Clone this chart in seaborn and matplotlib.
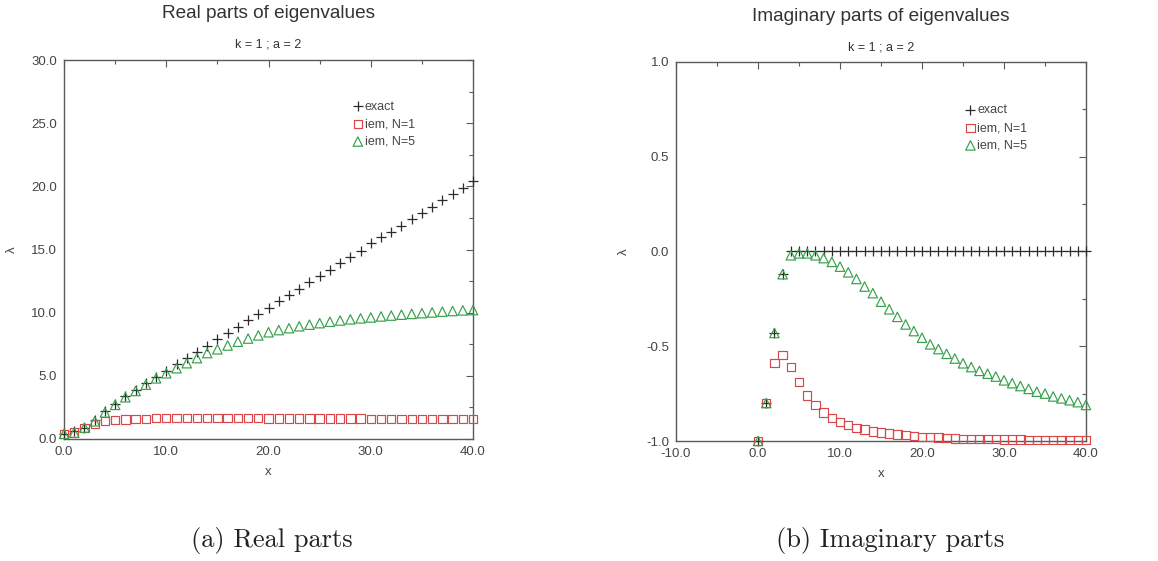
import matplotlib
matplotlib.use("Agg")
import matplotlib.pyplot as plt
import seaborn as sns
import numpy as np
import pandas as pd
from matplotlib.ticker import MultipleLocator, FormatStrFormatter

# ---------------- data ----------------
x_vals = list(range(41))

exact_re = [0.4, 0.6, 0.9, 1.5, 2.2, 2.8, 3.4, 3.9, 4.4, 4.9,
            5.4, 5.9, 6.4, 6.9, 7.4, 7.9, 8.4, 8.9, 9.4, 9.9,
            10.4, 10.9, 11.4, 11.9, 12.4, 12.9, 13.4, 13.9, 14.4, 14.9,
            15.5, 16.0, 16.4, 16.9, 17.4, 17.9, 18.4, 18.9, 19.4, 19.9,
            20.4]
iem1_re = [0.4, 0.5, 0.85, 1.2, 1.4, 1.5, 1.55, 1.6, 1.6, 1.65,
           1.65, 1.65, 1.65, 1.65, 1.65, 1.65, 1.65, 1.65, 1.65, 1.65,
           1.63, 1.63, 1.63, 1.63, 1.63, 1.62, 1.62, 1.62, 1.62, 1.62,
           1.6, 1.6, 1.6, 1.6, 1.6, 1.6, 1.6, 1.6, 1.6, 1.6,
           1.58]
iem5_re = [0.4, 0.5, 0.9, 1.4, 2.1, 2.7, 3.3, 3.8, 4.3, 4.8,
           5.2, 5.6, 6.0, 6.4, 6.8, 7.1, 7.4, 7.7, 7.95, 8.2,
           8.45, 8.62, 8.77, 8.92, 9.05, 9.17, 9.28, 9.38, 9.47, 9.55,
           9.62, 9.7, 9.77, 9.84, 9.9, 9.96, 10.02, 10.08, 10.13, 10.18,
           10.2]

exact_im = [-1.0, -0.8, -0.43, -0.12, 0.0, 0.0, 0.0, 0.0, 0.0, 0.0,
            0.0, 0.0, 0.0, 0.0, 0.0, 0.0, 0.0, 0.0, 0.0, 0.0,
            0.0, 0.0, 0.0, 0.0, 0.0, 0.0, 0.0, 0.0, 0.0, 0.0,
            0.0, 0.0, 0.0, 0.0, 0.0, 0.0, 0.0, 0.0, 0.0, 0.0,
            0.0]
iem1_im = [-1.0, -0.8, -0.59, -0.545, -0.61, -0.69, -0.76, -0.81, -0.85, -0.88,
           -0.90, -0.915, -0.93, -0.94, -0.95, -0.955, -0.96, -0.965, -0.97, -0.975,
           -0.978, -0.98, -0.982, -0.985, -0.987, -0.988, -0.99, -0.99, -0.99, -0.99,
           -0.992, -0.992, -0.992, -0.993, -0.993, -0.994, -0.994, -0.995, -0.995, -0.995,
           -0.995]
iem5_im = [-1.0, -0.8, -0.43, -0.12, -0.02, -0.01, -0.01, -0.02, -0.035, -0.055,
           -0.08, -0.11, -0.145, -0.185, -0.22, -0.265, -0.305, -0.345, -0.385, -0.42,
           -0.455, -0.49, -0.515, -0.54, -0.565, -0.59, -0.61, -0.63, -0.645, -0.66,
           -0.68, -0.695, -0.71, -0.725, -0.74, -0.75, -0.765, -0.775, -0.785, -0.795,
           -0.81]

series_labels = ["exact", "iem, N=1", "iem, N=5"]
titles = ["Real parts of eigenvalues", "Imaginary parts of eigenvalues"]
subtitle = "k = 1 ; a = 2"
captions = ["(a) Real parts", "(b) Imaginary parts"]

# ---------------- style ----------------
sns.set_style("white")
plt.rcParams["font.family"] = ["Liberation Sans", "DejaVu Sans"]

BLACK = "#2b2b2b"
RED = "#d8474a"
GREEN = "#36a04a"
SPINE = "#5a5a5a"
TXT = "#444444"

fig = plt.figure(figsize=(11.58, 5.61), dpi=100)
axL = fig.add_axes([0.0553, 0.2175, 0.3532, 0.6755])
axR = fig.add_axes([0.5838, 0.2139, 0.3540, 0.6756])


def draw(ax, ex, n1, n5):
    sns.scatterplot(x=x_vals, y=ex, marker="+", s=46, color=BLACK, edgecolor=BLACK,
                    linewidth=0.9, ax=ax, label=series_labels[0], clip_on=False, zorder=3)
    sns.scatterplot(x=x_vals, y=n1, marker="s", s=36, color=RED, facecolor="none",
                    edgecolor=RED, linewidth=0.85, ax=ax, label=series_labels[1],
                    clip_on=False, zorder=3)
    sns.scatterplot(x=x_vals, y=n5, marker="^", s=46, color=GREEN, facecolor="none",
                    edgecolor=GREEN, linewidth=0.85, ax=ax, label=series_labels[2],
                    clip_on=False, zorder=3)


draw(axL, exact_re, iem1_re, iem5_re)
draw(axR, exact_im, iem1_im, iem5_im)

axL.set_xlim(0, 40)
axL.set_ylim(0, 30)
axL.xaxis.set_major_locator(MultipleLocator(10))
axL.xaxis.set_minor_locator(MultipleLocator(5))
axL.yaxis.set_major_locator(MultipleLocator(5))
axL.yaxis.set_minor_locator(MultipleLocator(2.5))

axR.set_xlim(-10, 40)
axR.set_ylim(-1, 1)
axR.xaxis.set_major_locator(MultipleLocator(10))
axR.xaxis.set_minor_locator(MultipleLocator(5))
axR.yaxis.set_major_locator(MultipleLocator(0.5))
axR.yaxis.set_minor_locator(MultipleLocator(0.25))

legend_pos = [(0.703, 0.893), (0.703, 0.888)]
title_y = [(1.124, 1.042), (1.119, 1.037)]

for i, ax in enumerate([axL, axR]):
    ax.xaxis.set_major_formatter(FormatStrFormatter("%.1f"))
    ax.yaxis.set_major_formatter(FormatStrFormatter("%.1f"))
    ax.tick_params(which="both", direction="in", top=True, right=True,
                   color=SPINE, labelcolor=TXT, labelsize=9.5, width=0.8)
    ax.tick_params(which="major", length=5, pad=5)
    ax.tick_params(which="minor", length=3)
    for sp in ax.spines.values():
        sp.set_color(SPINE)
        sp.set_linewidth(1.0)
    ax.set_xlabel("x", fontsize=9.5, color=TXT)
    ax.set_ylabel("λ", fontsize=9.5, color=TXT)
    ax.xaxis.set_label_coords(0.5, -0.087)
    ax.xaxis.label.set_va("center")
    ax.yaxis.set_label_coords(-0.128, 0.5)
    ax.yaxis.label.set_va("center")
    ax.grid(False)
    ax.legend(loc="upper left", bbox_to_anchor=legend_pos[i], frameon=False,
              handletextpad=0.05, handlelength=1.0, borderaxespad=0, borderpad=0,
              labelspacing=0.45, fontsize=9, labelcolor=TXT)
    ax.text(0.5, title_y[i][0], titles[i], transform=ax.transAxes, ha="center",
            va="center", fontsize=13.7, color="#333333")
    ax.text(0.5, title_y[i][1], subtitle, transform=ax.transAxes, ha="center",
            va="center", fontsize=9, color="#333333")

fig.text(272 / 1158, 1 - 541 / 561, captions[0], ha="center", va="center",
         fontsize=19, family="cmr10", color="#222222")
fig.text(890 / 1158, 1 - 541 / 561, captions[1], ha="center", va="center",
         fontsize=19, family="cmr10", color="#222222")

fig.savefig("out.png", dpi=100, facecolor="white")
